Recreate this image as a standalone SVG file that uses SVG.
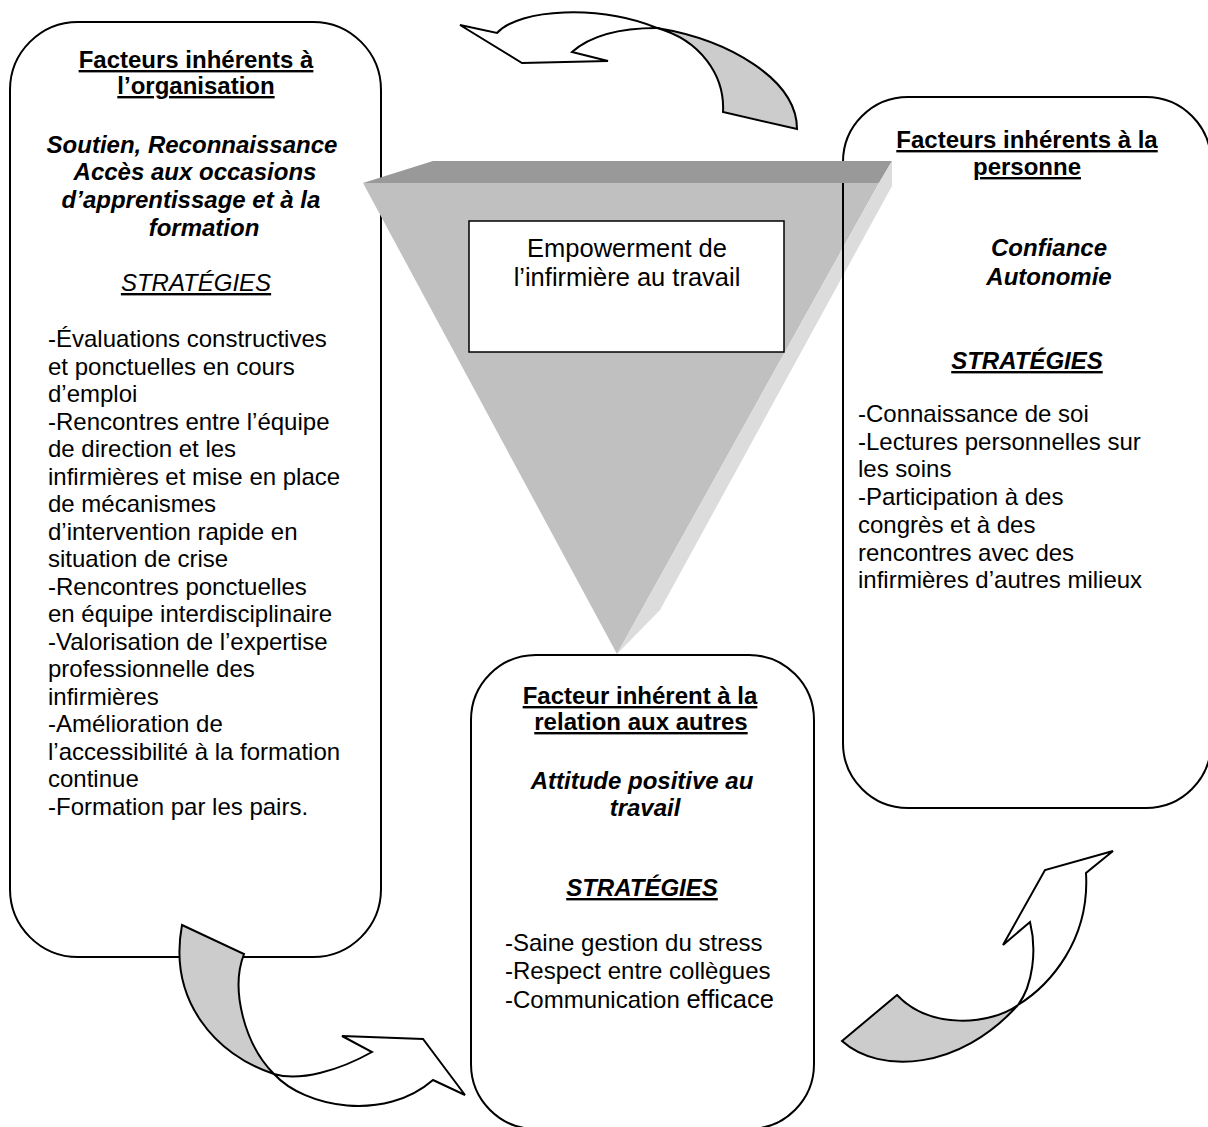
<svg xmlns="http://www.w3.org/2000/svg" width="1208" height="1127" viewBox="0 0 1208 1127">
<style>
.box{fill:#fff;stroke:#000;stroke-width:2}
.t{font-family:"Liberation Sans",Arial,sans-serif;font-size:24px;fill:#000}
.c{text-anchor:middle}
.h{font-weight:bold;text-decoration:underline}
.bi{font-weight:bold;font-style:italic}
.iu{font-style:italic;text-decoration:underline}
.biu{font-weight:bold;font-style:italic;text-decoration:underline}
.arr{stroke:#000;stroke-width:2;stroke-linejoin:miter}
.g{fill:#ccc}
.w{fill:#fff}
</style>
<g id="node-organisation">
<rect class="box" x="10" y="22" width="371" height="935" rx="68" ry="68"/>
<text class="t c h" x="196" y="68">Facteurs inhérents à</text>
<text class="t c h" x="196" y="94">l’organisation</text>
<text class="t c bi" x="192" y="153">Soutien, Reconnaissance</text>
<text class="t c bi" x="195" y="180">Accès aux occasions</text>
<text class="t c bi" x="191" y="208">d’apprentissage et à la</text>
<text class="t c bi" x="204" y="236">formation</text>
<text class="t c iu" x="196" y="291">STRATÉGIES</text>
<text class="t" x="48" y="347">-Évaluations constructives</text>
<text class="t" x="48" y="374.5">et ponctuelles en cours</text>
<text class="t" x="48" y="402">d’emploi</text>
<text class="t" x="48" y="429.5">-Rencontres entre l’équipe</text>
<text class="t" x="48" y="457">de direction et les</text>
<text class="t" x="48" y="484.5">infirmières et mise en place</text>
<text class="t" x="48" y="512">de mécanismes</text>
<text class="t" x="48" y="539.5">d’intervention rapide en</text>
<text class="t" x="48" y="567">situation de crise</text>
<text class="t" x="48" y="594.5">-Rencontres ponctuelles</text>
<text class="t" x="48" y="622">en équipe interdisciplinaire</text>
<text class="t" x="48" y="649.5">-Valorisation de l’expertise</text>
<text class="t" x="48" y="677">professionnelle des</text>
<text class="t" x="48" y="704.5">infirmières</text>
<text class="t" x="48" y="732">-Amélioration de</text>
<text class="t" x="48" y="759.5">l’accessibilité à la formation</text>
<text class="t" x="48" y="787">continue</text>
<text class="t" x="48" y="814.5">-Formation par les pairs.</text>
</g>
<g id="node-personne">
<rect class="box" x="843" y="97" width="368" height="711" rx="65" ry="65"/>
<text class="t c h" x="1027" y="148">Facteurs inhérents à la</text>
<text class="t c h" x="1027" y="175">personne</text>
<text class="t c bi" x="1049" y="256">Confiance</text>
<text class="t c bi" x="1049" y="285">Autonomie</text>
<text class="t c biu" x="1027" y="369">STRATÉGIES</text>
<text class="t" x="858" y="422">-Connaissance de soi</text>
<text class="t" x="858" y="449.7">-Lectures personnelles sur</text>
<text class="t" x="858" y="477.4">les soins</text>
<text class="t" x="858" y="505.1">-Participation à des</text>
<text class="t" x="858" y="532.8">congrès et à des</text>
<text class="t" x="858" y="560.5">rencontres avec des</text>
<text class="t" x="858" y="588.2">infirmières d’autres milieux</text>
</g>
<g id="node-relation">
<rect class="box" x="471" y="655" width="343" height="474" rx="65" ry="65"/>
<text class="t c h" x="640" y="704">Facteur inhérent à la</text>
<text class="t c h" x="641" y="730">relation aux autres</text>
<text class="t c bi" x="642" y="789">Attitude positive au</text>
<text class="t c bi" x="645" y="816">travail</text>
<text class="t c biu" x="642" y="896">STRATÉGIES</text>
<text class="t" x="505" y="951">-Saine gestion du stress</text>
<text class="t" x="505" y="979">-Respect entre collègues</text>
<text class="t" x="505" y="1008">-Communication <tspan style="font-size:25.5px">efficace</tspan></text>
</g>
<g id="node-empowerment">
<polygon points="433,161 892,161 879,183 363,183" fill="#999"/>
<polygon points="363,183 879,183 617,654" fill="#c0c0c0"/>
<polygon points="879,183 892,161 892,186 660,610 617,654" fill="#dcdcdc"/>
<line x1="843" y1="183" x2="843" y2="320" stroke="#000" stroke-width="2"/>
<rect x="469" y="221" width="315" height="131" fill="#fff" stroke="#000" stroke-width="1.5"/>
<text class="t c" x="627" y="257" style="font-size:25.5px">Empowerment de</text>
<text class="t c" x="627" y="286" style="font-size:25.5px">l’infirmière au travail</text>
</g>
<g id="connectors">
<g id="arrow-top">
<path class="arr g" d="M657,28 C730,40 797,80 797,129 L723,112 C725,75 700,40 657,28 Z"/>
<path class="arr w" d="M460,25 L522,63 L608,61 L572,52 C590,36 620,28 657,28 C600,5 520,8 497,33 Z"/>
</g>
<g id="arrow-bottom-left">
<path class="arr g" d="M182,925 L244,954 C230,990 245,1045 274,1074 C215,1055 168,1000 182,925 Z"/>
<path class="arr w" d="M274,1074 C305,1108 385,1122 433,1080 L465,1095 L423,1039 L342,1036 L372,1052 C340,1070 300,1082 274,1074 Z"/>
</g>
<g id="arrow-bottom-right">
<path class="arr g" d="M897,995 L842,1041 C880,1075 960,1070 1018,1005 C990,1025 930,1030 897,995 Z"/>
<path class="arr w" d="M1018,1005 C1050,985 1090,940 1086,873 L1113,851 L1045,870 L1003,945 L1030,922 C1037,950 1033,985 1018,1005 Z"/>
</g>
</g>
</svg>
